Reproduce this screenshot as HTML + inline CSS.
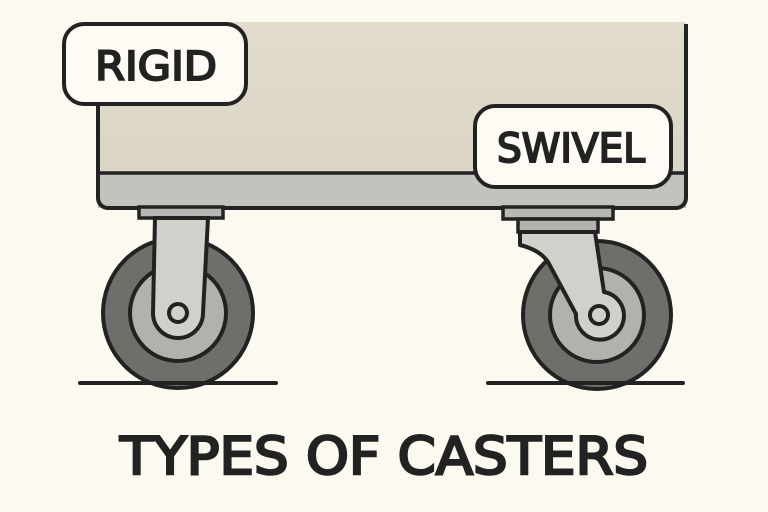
<!DOCTYPE html>
<html><head><style>
body{margin:0;background:#fcf9f0;}
svg{display:block}
text{font-family:"DejaVu Sans","Liberation Sans",sans-serif;font-weight:normal;fill:#222;stroke:#222;}
</style></head><body>
<svg width="768" height="512" viewBox="0 0 768 512">
<defs>
<linearGradient id="bx" x1="0" y1="0" x2="0" y2="1"><stop offset="0" stop-color="#e2dccd"/><stop offset="1" stop-color="#d9d3c4"/></linearGradient>
</defs>
<rect width="768" height="512" fill="#fcf9f0"/>
<path d="M98 22 H686 V198 a10 10 0 0 1 -10 10 H108 a10 10 0 0 1 -10 -10 Z" fill="url(#bx)"/>
<rect x="98" y="172" width="588" height="36" fill="#c4c2bc"/>
<path d="M686 24 V198 a10 10 0 0 1 -10 10 H108 a10 10 0 0 1 -10 -10 V100" fill="none" stroke="#222" stroke-width="4"/>
<line x1="98" y1="173" x2="686" y2="173" stroke="#222" stroke-width="3.5"/>
<rect x="139" y="207" width="84" height="11" fill="#b9b7b1" stroke="#222" stroke-width="3.5"/>
<circle cx="178" cy="313" r="75" fill="#6e6e6b" stroke="#222" stroke-width="4"/>
<circle cx="178" cy="313" r="48" fill="#b3b1ab" stroke="#222" stroke-width="4"/>
<path d="M155 218 H208 L203 313 a25 25 0 0 1 -50 0 Z" fill="#d2d0ca" stroke="#222" stroke-width="4"/>
<circle cx="178" cy="313" r="9" fill="#d2d0ca" stroke="#222" stroke-width="4"/>
<line x1="80" y1="383" x2="276" y2="383" stroke="#222" stroke-width="4" stroke-linecap="round"/>
<rect x="503" y="207" width="110" height="12" fill="#b9b7b1" stroke="#222" stroke-width="3.5"/>
<rect x="518" y="219" width="80" height="13" fill="#b3b1ab" stroke="#222" stroke-width="3.5"/>
<circle cx="597" cy="315" r="74" fill="#6e6e6b" stroke="#222" stroke-width="4"/>
<circle cx="597" cy="315" r="47" fill="#b3b1ab" stroke="#222" stroke-width="4"/>
<path d="M520 232 H595 L604 292 a24 24 0 1 1 -28 22 L548 262 Q540 250 520 245 Z" fill="#d2d0ca" stroke="#222" stroke-width="4" stroke-linejoin="round"/>
<circle cx="599" cy="315" r="9" fill="#d2d0ca" stroke="#222" stroke-width="4"/>
<line x1="488" y1="383" x2="683" y2="383" stroke="#222" stroke-width="4" stroke-linecap="round"/>
<rect x="64" y="24" width="182" height="80" rx="20" fill="#fdfbf4" stroke="#222" stroke-width="4"/>
<text x="156" y="80" font-size="40" text-anchor="middle" stroke-width="2" textLength="122" lengthAdjust="spacingAndGlyphs">RIGID</text>
<rect x="475" y="106" width="196" height="81" rx="20" fill="#fdfbf4" stroke="#222" stroke-width="4"/>
<text x="571" y="162" font-size="40" text-anchor="middle" stroke-width="2" textLength="148" lengthAdjust="spacingAndGlyphs">SWIVEL</text>
<text x="384" y="474" font-size="52" text-anchor="middle" stroke-width="2.5" textLength="528" lengthAdjust="spacingAndGlyphs">TYPES OF CASTERS</text>
</svg>
</body></html>
